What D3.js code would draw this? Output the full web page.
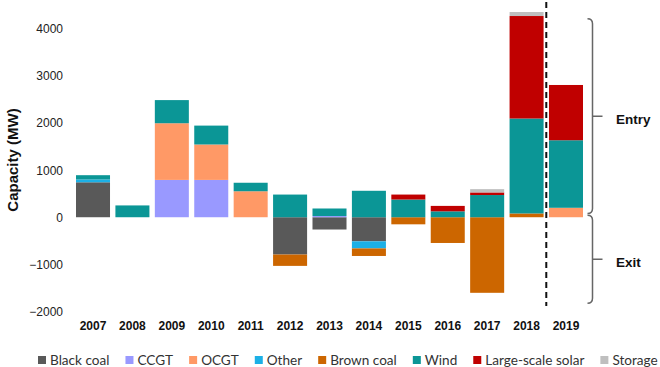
<!DOCTYPE html>
<html>
<head>
<meta charset="utf-8">
<script src="https://cdn.jsdelivr.net/npm/d3@7"></script>
<style>
  html, body { margin: 0; padding: 0; background: #fff; }
  svg { display: block; }
</style>
</head>
<body>
<svg id="chart" width="660" height="367"></svg>
<script>
// ---- Data (MW) ----
const years = ["2007","2008","2009","2010","2011","2012","2013","2014","2015","2016","2017","2018","2019"];
const seriesNames = ["Black coal","CCGT","OCGT","Other","Brown coal","Wind","Large-scale solar","Storage"];
const blackCoal = [740, 0, 0, 0, 0, -790, -260, -510, 0, 0, 0, 0, 0];
const ccgt      = [0, 0, 790, 790, 0, 0, 25, 0, 0, 0, 0, 0, 0];
const ocgt      = [0, 0, 1200, 750, 550, 0, 0, 0, 0, 0, 0, 0, 200];
const other     = [60, 0, 0, 0, 0, 0, 0, -150, 0, 0, 0, 0, 0];
const brownCoal = [0, 0, 0, 0, 0, -240, 0, -160, -150, -545, -1600, 80, 0];
const wind      = [90, 250, 490, 400, 180, 480, 160, 560, 375, 125, 470, 2010, 1430];
const solar     = [0, 0, 0, 0, 0, 0, 0, 0, 105, 115, 55, 2170, 1170];
const storage   = [0, 0, 0, 0, 0, 0, 0, 0, 0, 0, 70, 85, 0];
const yTicks = [-2000, -1000, 0, 1000, 2000, 3000, 4000];
const colors = ["#595959","#9999ff","#ff9966","#1cb0e6","#cc6600","#0b9696","#c00000","#bfbfbf"];

const seriesValues = [blackCoal, ccgt, ocgt, other, brownCoal, wind, solar, storage];
const table = years.map((yr, i) => {
  const row = { year: yr };
  seriesNames.forEach((n, k) => row[n] = seriesValues[k][i]);
  return row;
});

const svg = d3.select("#chart");

const x = d3.scaleBand().domain(years).range([73.3, 585.7])
  .paddingInner(0.137).paddingOuter(0.0685);
const y = d3.scaleLinear().domain([-2000, 4000]).range([311.7, 28.3]);
const color = d3.scaleOrdinal().domain(seriesNames).range(colors);

const stacked = d3.stack().keys(seriesNames).offset(d3.stackOffsetDiverging)(table);

// bars
svg.append("g").selectAll("g").data(stacked).join("g")
  .attr("fill", d => color(d.key))
  .selectAll("rect").data(d => d).join("rect")
  .attr("x", d => x(d.data.year))
  .attr("width", x.bandwidth())
  .attr("y", d => y(Math.max(d[0], d[1])))
  .attr("height", d => Math.abs(y(d[0]) - y(d[1])));

// y axis (labels only)
const yAxis = d3.axisLeft(y).tickValues(yTicks).tickSize(0).tickPadding(0).tickFormat(d3.format("d"));
const gy = svg.append("g").attr("transform", "translate(63,0)").call(yAxis);
gy.select(".domain").remove();
gy.selectAll("text").attr("font-family", "Liberation Sans, Arial, sans-serif")
  .attr("font-size", 12).attr("fill", "#222").attr("dy", "0.35em");

// x axis (labels only)
const xAxis = d3.axisBottom(x).tickSize(0).tickPadding(0);
const gx = svg.append("g").attr("transform", "translate(0,326)").call(xAxis);
gx.select(".domain").remove();
gx.selectAll("text").attr("font-family", "Liberation Sans, Arial, sans-serif")
  .attr("font-size", 12).attr("font-weight", "bold").attr("fill", "#111").attr("dy", "0.35em");

// axis title
svg.append("text")
  .attr("transform", `translate(18,${y(1000) - 10}) rotate(-90)`)
  .attr("text-anchor", "middle")
  .attr("font-family", "Liberation Sans, Arial, sans-serif")
  .attr("font-size", 15).attr("font-weight", "bold").attr("fill", "#111")
  .text("Capacity (MW)");

// dashed separator between 2018 and 2019
const gapHalf = (x.step() - x.bandwidth()) / 2;
const sepX = x("2019") - gapHalf;
svg.append("line")
  .attr("x1", sepX).attr("x2", sepX).attr("y1", 2).attr("y2", 306)
  .attr("stroke", "#111").attr("stroke-width", 2).attr("stroke-dasharray", "6,4");

// brackets
function bracket(topV, botV, label) {
  const bx = 592.5, hook = 5;
  const t = y(topV), b = y(botV), m = (t + b) / 2;
  svg.append("path")
    .attr("d", `M${bx - hook},${t} Q${bx},${t} ${bx},${t + hook} L${bx},${b - hook} Q${bx},${b} ${bx - hook},${b} M${bx},${m} L${bx + 10},${m}`)
    .attr("fill", "none").attr("stroke", "#666").attr("stroke-width", 1.5);
  svg.append("text")
    .attr("x", 616).attr("y", m + 4).attr("dy", "0.3em")
    .attr("font-family", "Liberation Sans, Arial, sans-serif")
    .attr("font-size", 13.5).attr("font-weight", "bold").attr("fill", "#111")
    .text(label);
}
bracket(4200, 80, "Entry");
bracket(40, -1820, "Exit");

// legend
const legend = svg.append("g");
const items = legend.selectAll("g").data(seriesNames).join("g");
items.append("rect").attr("width", 8).attr("height", 8).attr("y", 356)
  .attr("fill", d => color(d));
const texts = items.append("text").attr("y", 360).attr("dy", "0.35em")
  .attr("font-family", "Lato, 'Open Sans', sans-serif").attr("fill", "#333")
  .text(d => d);
let fs = 14;
texts.attr("font-size", fs);
let sumW = d3.sum(texts.nodes(), n => n.getComputedTextLength());
fs = fs * 412 / sumW;
texts.attr("font-size", fs);
let cx = 38;
items.each(function() {
  const g = d3.select(this);
  const w = g.select("text").node().getComputedTextLength();
  g.select("rect").attr("x", cx);
  g.select("text").attr("x", cx + 12);
  cx += 12 + w + 16;
});
</script>
</body>
</html>
